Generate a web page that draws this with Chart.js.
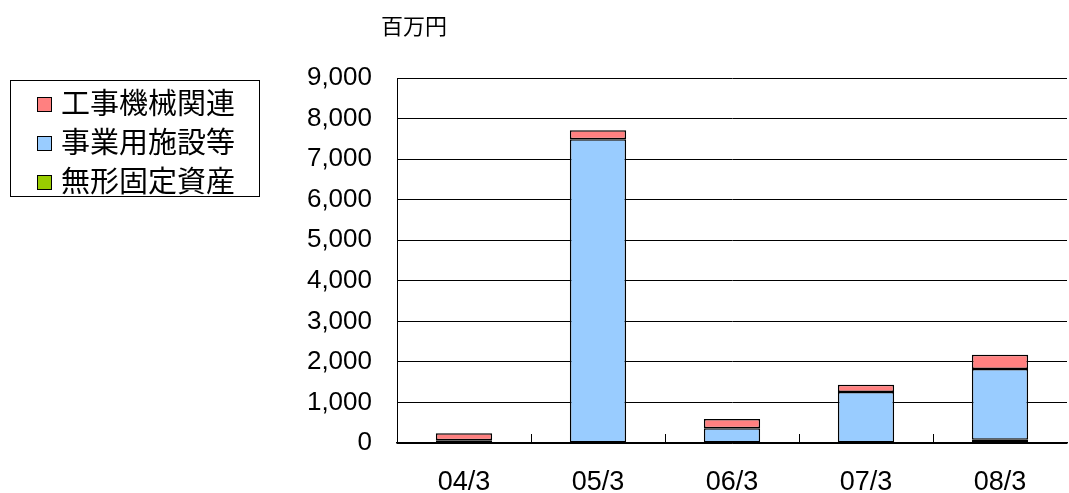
<!DOCTYPE html>
<html>
<head>
<meta charset="utf-8">
<script src="https://cdn.jsdelivr.net/npm/chart.js@4"></script>
<style>
    html, body { margin: 0; padding: 0; background: #fff; }
    #wrap { position: relative; width: 1069px; height: 493px; }
    #unit {
        position: absolute; left: 381px; top: 9px;
        font: 22px "Noto Sans CJK JP", sans-serif; color: #000; line-height: 30px;
    }
    #legend {
        position: absolute; left: 10px; top: 80px; width: 250px; height: 117px;
        border: 1px solid #000; box-sizing: border-box;
        font: 29px "Noto Sans CJK JP", sans-serif; color: #000;
        padding: 1px 0 0 26px;
    }
    #legend div { height: 39px; line-height: 39px; white-space: nowrap; }
    #legend span.box {
        display: inline-block; width: 15px; height: 15px; border: 1px solid #000;
        box-sizing: border-box; margin-right: 9px; vertical-align: 2px;
    }
</style>
</head>
<body>
<div id="wrap">
    <canvas id="chart" width="1069" height="493"></canvas>
    <div id="unit">百万円</div>
    <div id="legend"></div>
</div>
<script>
// 年度（3月期）
const periods = ['04/3', '05/3', '06/3', '07/3', '08/3'];

// 系列データ（百万円）、null は値なし
const intangibleAssets = [null, null, null, null, 80];      // 無形固定資産
const businessFacilities = [70, 7490, 362, 1258, 1745];     // 事業用施設等
const machineryRelated = [170, 220, 230, 180, 353];         // 工事機械関連

const yTicks = [0, 1000, 2000, 3000, 4000, 5000, 6000, 7000, 8000, 9000];

const seriesNames = ['工事機械関連', '事業用施設等', '無形固定資産'];
const seriesColors = ['#FF8080', '#99CCFF', '#99CC00'];

// 凡例（HTML）
const legendEl = document.getElementById('legend');
seriesNames.forEach((name, i) => {
    const row = document.createElement('div');
    const box = document.createElement('span');
    box.className = 'box';
    box.style.background = seriesColors[i];
    row.appendChild(box);
    row.appendChild(document.createTextNode(name));
    legendEl.appendChild(row);
});

// カテゴリ境界の内向き目盛り
const innerTicks = {
    id: 'innerTicks',
    afterDatasetsDraw(chart) {
        const area = chart.chartArea;
        const ctx = chart.ctx;
        const step = (area.right - area.left) / periods.length;
        ctx.save();
        ctx.strokeStyle = '#000';
        ctx.lineWidth = 1;
        for (let i = 1; i < periods.length; i++) {
            const px = Math.round(area.left + step * i) + 0.5;
            ctx.beginPath();
            ctx.moveTo(px, area.bottom);
            ctx.lineTo(px, area.bottom - 9);
            ctx.stroke();
        }
        ctx.restore();
    }
};

const common = { borderColor: '#000', borderWidth: 1.5, borderSkipped: false, barPercentage: 0.42, categoryPercentage: 1 };

new Chart(document.getElementById('chart').getContext('2d'), {
    type: 'bar',
    data: {
        labels: periods,
        datasets: [
            Object.assign({ label: seriesNames[2], data: intangibleAssets, backgroundColor: seriesColors[2] }, common),
            Object.assign({ label: seriesNames[1], data: businessFacilities, backgroundColor: seriesColors[1] }, common),
            Object.assign({ label: seriesNames[0], data: machineryRelated, backgroundColor: seriesColors[0] }, common)
        ]
    },
    options: {
        responsive: false,
        animation: false,
        layout: { padding: { top: 78, right: 2, left: 0, bottom: 0 } },
        plugins: {
            legend: { display: false },
            tooltip: { enabled: false }
        },
        scales: {
            x: {
                stacked: true,
                grid: { display: false },
                border: { color: '#000', width: 1.5 },
                ticks: {
                    color: '#000',
                    font: { family: 'Liberation Sans', size: 27 },
                    padding: 15
                },
                afterFit(scale) { scale.height = 50; }
            },
            y: {
                stacked: true,
                min: 0,
                max: 9000,
                afterBuildTicks(scale) { scale.ticks = yTicks.map(v => ({ value: v })); },
                grid: { color: '#000', lineWidth: 1, drawTicks: false },
                border: { color: '#000', width: 1 },
                ticks: {
                    color: '#000',
                    font: { family: 'Liberation Sans', size: 26 },
                    padding: 25,
                    callback: v => v.toLocaleString('en-US')
                },
                afterFit(scale) { scale.width = 397; }
            }
        }
    },
    plugins: [innerTicks]
});
</script>
</body>
</html>
